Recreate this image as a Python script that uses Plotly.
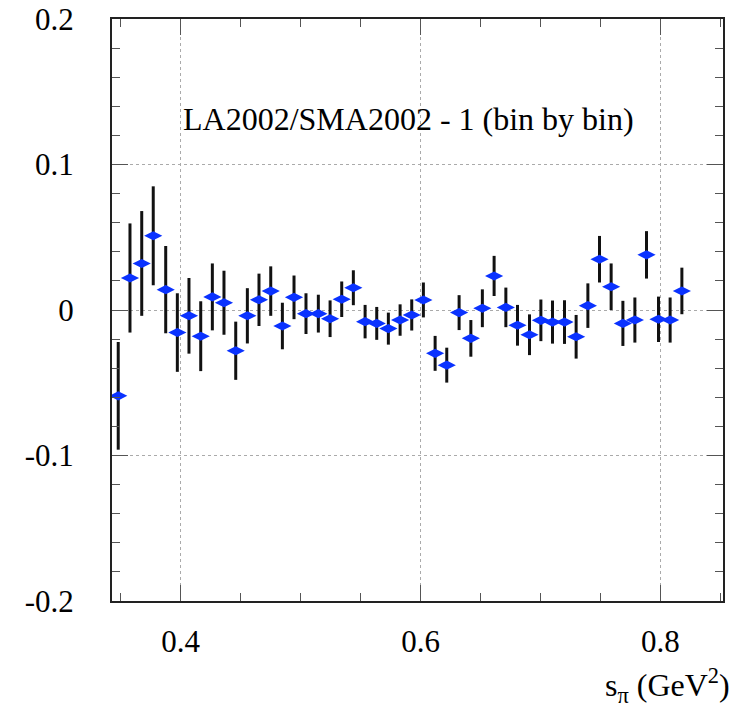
import plotly.graph_objects as go

s_pi = [0.3479, 0.3577, 0.3675, 0.3771, 0.3875, 0.3972, 0.4069, 0.4167, 0.4264, 0.4361,
        0.4459, 0.4556, 0.4653, 0.4751, 0.4848, 0.4945, 0.5045, 0.5148, 0.5246, 0.5343,
        0.5440, 0.5538, 0.5635, 0.5732, 0.5830, 0.5927, 0.6024, 0.6122, 0.6219, 0.6322,
        0.6420, 0.6516, 0.6614, 0.6712, 0.6809, 0.6909, 0.7004, 0.7101, 0.7201, 0.7298,
        0.7396, 0.7493, 0.7590, 0.7688, 0.7788, 0.7885, 0.7985, 0.8082, 0.8180]

ratio_minus_1 = [-0.059, 0.022, 0.032, 0.051, 0.014, -0.0155, -0.004, -0.018, 0.009, 0.005,
                 -0.028, -0.004, 0.007, 0.013, -0.011, 0.0087, -0.0025, -0.0025, -0.006, 0.0074,
                 0.0153, -0.008, -0.0092, -0.0128, -0.0069, -0.0034, 0.0069, -0.0298, -0.0379, -0.0018,
                 -0.0195, 0.0012, 0.0234, 0.0018, -0.0105, -0.017, -0.0071, -0.0083, -0.0083, -0.0184,
                 0.003, 0.0349, 0.016, -0.0092, -0.0069, 0.0379, -0.0064, -0.0069, 0.0131]

errors = [0.037, 0.0375, 0.036, 0.034, 0.030, 0.027, 0.026, 0.024, 0.023, 0.022,
          0.020, 0.019, 0.018, 0.017, 0.016, 0.015, 0.014, 0.013, 0.0126, 0.0122,
          0.012, 0.0115, 0.0113, 0.011, 0.0108, 0.0107, 0.012, 0.012, 0.012, 0.012,
          0.0126, 0.013, 0.0138, 0.0136, 0.014, 0.014, 0.0143, 0.0148, 0.015, 0.015,
          0.0153, 0.016, 0.016, 0.0155, 0.0155, 0.0163, 0.0156, 0.0155, 0.016]

x_tick_vals = [0.4, 0.6, 0.8]
x_tick_text = ["0.4", "0.6", "0.8"]
y_tick_vals = [-0.2, -0.1, 0, 0.1, 0.2]
y_tick_text = ["-0.2", "-0.1", "0", "0.1", "0.2"]

FONT = "Liberation Serif"

fig = go.Figure()
fig.add_trace(go.Scatter(
    x=s_pi, y=ratio_minus_1, mode="markers",
    marker=dict(symbol="diamond-wide", size=13, color="#0a32ff", line=dict(width=0)),
    error_y=dict(type="data", array=errors, visible=True, color="#111111", thickness=3, width=0),
    showlegend=False,
))

fig.add_annotation(x=0.5897, y=0.131, xref="x", yref="y",
                   text="LA2002/SMA2002 - 1 (bin by bin)", showarrow=False,
                   font=dict(family=FONT, size=32, color="black"),
                   xanchor="center", yanchor="middle")

fig.add_annotation(x=1.0147, y=-0.146, xref="paper", yref="paper",
                   text="s<sub>π</sub> (GeV<sup>2</sup>)", showarrow=False,
                   font=dict(family=FONT, size=32, color="black"),
                   xanchor="right", yanchor="middle")

axis_common = dict(
    showline=True, linecolor="#222222", linewidth=2, mirror="ticks",
    ticks="inside", ticklen=16, tickwidth=1, tickcolor="#555555",
    showgrid=True, gridcolor="#aaaaaa", gridwidth=1, griddash="dot",
    zeroline=False, automargin=False,
    tickfont=dict(family=FONT, size=31, color="black"),
)

fig.update_xaxes(range=[0.3427, 0.8523], tickvals=x_tick_vals, ticktext=x_tick_text,
                 minor=dict(dtick=0.05, tick0=0.4, ticks="inside", ticklen=8, tickcolor="#555555", showgrid=False),
                 ticklabelstandoff=12, **axis_common)
fig.update_yaxes(range=[-0.2, 0.2], tickvals=y_tick_vals, ticktext=y_tick_text,
                 minor=dict(dtick=0.02, tick0=0, ticks="inside", ticklen=8, tickcolor="#555555", showgrid=False),
                 ticklabelstandoff=30, **axis_common)

fig.update_layout(
    width=740, height=712,
    margin=dict(l=112, r=17, t=19, b=111),
    paper_bgcolor="white", plot_bgcolor="white",
    font=dict(family=FONT, color="black"),
)

fig.write_html("out.html")
